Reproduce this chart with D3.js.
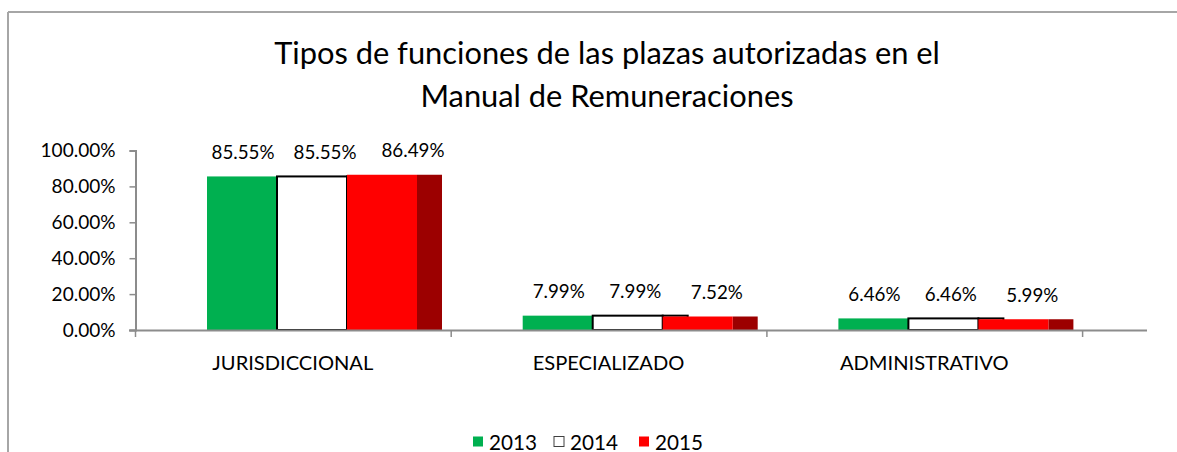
<!DOCTYPE html>
<html>
<head>
<meta charset="utf-8">
<script src="https://cdn.jsdelivr.net/npm/d3@7"></script>
<style>
  html, body { margin: 0; padding: 0; background: #fff; overflow: hidden; }
  svg { display: block; }
  text { font-family: Lato, "Open Sans", sans-serif; fill: #000; }
</style>
</head>
<body>
<svg id="chart" width="1177" height="452"></svg>
<script>
// Chart data
const categories = ["JURISDICCIONAL", "ESPECIALIZADO", "ADMINISTRATIVO"];
const years = ["2013", "2014", "2015"];
const values2013 = [0.8555, 0.0799, 0.0646];
const values2014 = [0.8555, 0.0799, 0.0646];
const values2015 = [0.8649, 0.0752, 0.0599];
const yTicks = [0, 0.2, 0.4, 0.6, 0.8, 1.0];
const titleLines = ["Tipos de funciones de las plazas autorizadas en el", "Manual de Remuneraciones"];

const seriesValues = [values2013, values2014, values2015];
const fills = ["#00b050", "#ffffff", "#ff0000"];
const sideFills = ["#007a38", "#ffffff", "#9c0000"];
const strokes = [null, "#000", null];

const svg = d3.select("#chart");

// outer frame of the chart area (left and top edges)
svg.append("line").attr("x1", 8).attr("x2", 8).attr("y1", 12).attr("y2", 452)
  .attr("stroke", "#a6a6a6").attr("stroke-width", 2);
svg.append("line").attr("x1", 8).attr("x2", 1177).attr("y1", 12).attr("y2", 12)
  .attr("stroke", "#a6a6a6").attr("stroke-width", 2);

// font-size helper: pick a size so the sample string spans the given width
function fitSize(sample, width) {
  const t = svg.append("text").attr("font-size", 100).text(sample);
  const w = t.node().getComputedTextLength();
  t.remove();
  return 100 * width / w;
}

const titleSize = fitSize(titleLines[0], 666);
const tickSize = fitSize("100.00%", 75);
const labelSize = fitSize("85.55%", 63);
const catSize = fitSize(categories[0], 161);
const legendSize = fitSize("2013", 48);

// plot geometry
const x0 = 136, catW = 315.7;
const x = d3.scaleBand().domain(categories).range([x0, x0 + catW * categories.length]).padding(0);
const y = d3.scaleLinear().domain([0, 1]).range([330, 150.5]);
const barW = 70, depth = 25, groupOffset = 71;

// title
svg.append("g").selectAll("text").data(titleLines).join("text")
  .attr("x", 607).attr("y", (d, i) => 52 + i * 43)
  .attr("text-anchor", "middle").attr("dominant-baseline", "central")
  .attr("font-size", titleSize).text(d => d);

// y axis
const yAxis = d3.axisLeft(y).tickValues(yTicks).tickSize(6).tickPadding(14)
  .tickFormat(d => (d * 100).toFixed(2) + "%");
const yg = svg.append("g").attr("transform", `translate(${x0 - 0.5},0)`).call(yAxis);
yg.select(".domain").attr("stroke", "#8c8c8c").attr("stroke-width", 2);
yg.selectAll(".tick line").attr("stroke", "#8c8c8c").attr("stroke-width", 1.5);
yg.selectAll(".tick text").attr("font-size", tickSize).attr("font-family", "Lato").attr("fill", "#000");

// bars: side face first, then front face, so the next series covers the side
const barsG = svg.append("g");
categories.forEach((cat, ci) => {
  seriesValues.forEach((vals, si) => {
    const v = vals[ci];
    const bx = x(cat) + groupOffset + si * barW;
    const top = y(v), h = y(0) - y(v);
    barsG.append("rect")
      .attr("x", bx + barW).attr("y", top).attr("width", depth).attr("height", h)
      .attr("fill", sideFills[si])
      .attr("stroke", strokes[si]).attr("stroke-width", strokes[si] ? 2 : 0);
    barsG.append("rect")
      .attr("x", bx).attr("y", top).attr("width", barW).attr("height", h)
      .attr("fill", fills[si])
      .attr("stroke", strokes[si]).attr("stroke-width", strokes[si] ? 2 : 0);
  });
});

// x axis (drawn over bar bottoms) with category separators
const xAxisG = svg.append("g");
xAxisG.append("line").attr("x1", x0 - 7).attr("x2", 1147).attr("y1", 330.5).attr("y2", 330.5)
  .attr("stroke", "#8c8c8c").attr("stroke-width", 2);
const seps = categories.map(c => x(c)).concat([x0 + catW * categories.length]);
xAxisG.selectAll("line.sep").data(seps).join("line").attr("class", "sep")
  .attr("x1", d => d - 0.5).attr("x2", d => d - 0.5).attr("y1", 330).attr("y2", 337)
  .attr("stroke", "#8c8c8c").attr("stroke-width", 1.5);

// category labels
svg.append("g").selectAll("text").data(categories).join("text")
  .attr("x", d => x(d) + x.bandwidth() / 2 - 1).attr("y", 362)
  .attr("text-anchor", "middle").attr("dominant-baseline", "central")
  .attr("font-size", catSize).text(d => d);

// data labels above each bar
const labelShift = [[1, 0], [7, 7], [18, 15]];
const labelsG = svg.append("g");
categories.forEach((cat, ci) => {
  seriesValues.forEach((vals, si) => {
    const v = vals[ci];
    const cx = x(cat) + groupOffset + si * barW + barW / 2 + labelShift[si][0] + labelShift[si][1] * v;
    labelsG.append("text")
      .attr("x", cx).attr("y", y(v) - 25)
      .attr("text-anchor", "middle").attr("dominant-baseline", "central")
      .attr("font-size", labelSize)
      .text((v * 100).toFixed(2) + "%");
  });
});

// legend
const legendX = [473, 554, 639];
const lg = svg.append("g");
years.forEach((yr, i) => {
  lg.append("rect").attr("x", legendX[i]).attr("y", 436.5).attr("width", 10).attr("height", 10)
    .attr("fill", fills[i]).attr("stroke", i === 1 ? "#404040" : "none").attr("stroke-width", 1);
  lg.append("text").attr("x", legendX[i] + 16).attr("y", 441.5)
    .attr("dominant-baseline", "central").attr("font-size", legendSize).text(yr);
});
</script>
</body>
</html>
